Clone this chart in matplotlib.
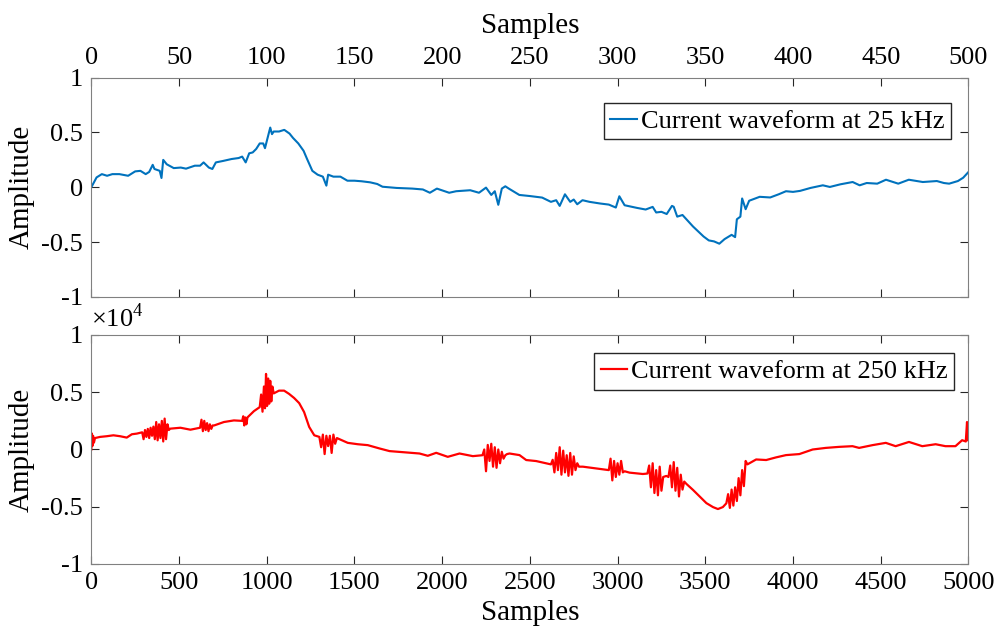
import matplotlib

matplotlib.use("Agg")
import matplotlib.pyplot as plt
import numpy as np
from matplotlib.ticker import FuncFormatter

# 25 kHz waveform (samples 0..500)
lf_samples = [
    0, 3, 6, 9, 12, 16, 21, 25, 28, 31, 33, 35, 36, 39, 40, 41, 43, 47, 51, 54,
    59, 62, 64, 67, 69, 71, 75, 80, 84, 86, 88, 90, 92, 94, 96, 98, 99, 101, 102, 103,
    104, 107, 110, 113, 115, 118, 121, 123, 126, 129, 132, 134, 135, 138, 142, 146, 150, 154, 159, 163,
    166, 174, 183, 189, 193, 197, 204, 208, 216, 221, 225, 228, 230, 232, 234, 236, 238, 244, 250, 257,
    262, 265, 267, 270, 273, 275, 277, 280, 284, 290, 295, 299, 301, 304, 311, 316, 320, 322, 325, 328,
    331, 332, 334, 337, 343, 349, 352, 355, 358, 361, 365, 367, 368, 370, 371, 373, 375, 381, 387, 392,
    396, 400, 404, 410, 417, 421, 427, 434, 438, 442, 448, 453, 460, 466, 474, 482, 486, 489, 494, 497,
    500,
]
lf_amp = [
    0.0, 0.09, 0.12, 0.105, 0.12, 0.12, 0.105, 0.145, 0.15, 0.12, 0.14, 0.205, 0.167, 0.15, 0.085, 0.25, 0.21, 0.175, 0.18, 0.17,
    0.197, 0.197, 0.227, 0.18, 0.167, 0.227, 0.24, 0.258, 0.267, 0.28, 0.227, 0.31, 0.318, 0.35, 0.4, 0.4, 0.357, 0.48, 0.545, 0.485,
    0.509, 0.509, 0.524, 0.49, 0.45, 0.4, 0.333, 0.258, 0.15, 0.115, 0.097, 0.015, 0.115, 0.097, 0.097, 0.06, 0.06, 0.055, 0.045, 0.03,
    0.005, -0.006, -0.012, -0.02, -0.05, -0.012, -0.05, -0.036, -0.027, -0.05, -0.003, -0.07, -0.036, -0.16, -0.012, 0.009, -0.012, -0.07, -0.08, -0.094,
    -0.133, -0.118, -0.17, -0.064, -0.133, -0.112, -0.155, -0.118, -0.133, -0.148, -0.158, -0.185, -0.082, -0.164, -0.188, -0.203, -0.179, -0.23, -0.224, -0.244,
    -0.17, -0.178, -0.268, -0.253, -0.358, -0.449, -0.485, -0.494, -0.515, -0.473, -0.434, -0.455, -0.292, -0.268, -0.102, -0.2, -0.123, -0.087, -0.093, -0.063,
    -0.036, -0.042, -0.033, -0.006, 0.018, 0.003, 0.027, 0.048, 0.018, 0.039, 0.033, 0.069, 0.033, 0.069, 0.048, 0.057, 0.039, 0.033, 0.057, 0.087,
    0.139,
]

# 250 kHz waveform (samples 0..5000), amplitude in units of 1e4
hf_samples = [
    0, 3, 6, 10, 15, 21, 50, 88, 126, 164, 202, 231, 260,
    290, 298, 306, 314, 322, 330, 338, 346, 354, 362, 370, 378, 386, 394, 402, 410, 418, 426, 434, 442,
    450, 508, 565,
    620, 628, 636, 644, 652, 660, 668, 676, 684, 692, 700,
    756, 813, 860, 866, 872, 878, 884, 890, 927,
    960, 968, 976, 984, 990, 996, 1002, 1008, 1014, 1020, 1026, 1032, 1040,
    1070, 1099, 1127, 1156, 1185, 1213, 1242, 1271,
    1300, 1310, 1320, 1330, 1340, 1350, 1360, 1370, 1380, 1390, 1400,
    1462, 1519, 1576, 1643, 1700, 1776, 1871, 1918, 1966, 2032, 2099, 2175,
    2230, 2240, 2250, 2260, 2270, 2280, 2290, 2300, 2310, 2320, 2330, 2340, 2350, 2360, 2370,
    2384, 2441, 2479, 2536, 2593,
    2620, 2630, 2640, 2650, 2660, 2670, 2680, 2690, 2700, 2710, 2720, 2730, 2740, 2750, 2760, 2770, 2780,
    2802, 2878,
    2950, 2960, 2970, 2980, 2990, 3000, 3010, 3020, 3030, 3040,
    3068, 3144,
    3170, 3180, 3190, 3200, 3210, 3220, 3230, 3240, 3250, 3260,
    3278,
    3290, 3300, 3310, 3320, 3330, 3340, 3350, 3360, 3370, 3380,
    3392, 3430, 3468, 3506, 3544, 3572, 3600,
    3620, 3630, 3640, 3650, 3660, 3670, 3680, 3690, 3700, 3710, 3720, 3730, 3740,
    3790, 3847, 3903, 3960, 4036, 4112, 4187, 4263, 4339, 4377, 4453, 4529, 4585, 4661, 4737, 4813, 4869, 4926, 4964,
    4985, 4992, 4996, 5000,
]
hf_amp = [
    0.0, 0.14, 0.03, 0.12, 0.06, 0.10, 0.11, 0.116, 0.124, 0.116, 0.104, 0.133, 0.139,
    0.15, 0.09, 0.17, 0.11, 0.18, 0.10, 0.19, 0.12, 0.20, 0.09, 0.24, 0.08, 0.22, 0.10, 0.25, 0.07, 0.27, 0.09, 0.22, 0.17,
    0.182, 0.19, 0.173,
    0.19, 0.26, 0.16, 0.25, 0.17, 0.23, 0.16, 0.22, 0.18, 0.21, 0.21,
    0.24, 0.254, 0.25, 0.29, 0.21, 0.28, 0.22, 0.28, 0.335,
    0.37, 0.48, 0.33, 0.55, 0.36, 0.66, 0.38, 0.62, 0.40, 0.60, 0.42, 0.55, 0.49,
    0.514, 0.514, 0.486, 0.45, 0.405, 0.327, 0.197, 0.124,
    0.11, 0.02, 0.13, -0.04, 0.12, 0.03, 0.12, -0.03, 0.13, 0.05, 0.10,
    0.058, 0.046, 0.038, 0.009, -0.014, -0.023, -0.035, -0.055, -0.029, -0.064, -0.035, -0.058,
    -0.05, 0.0, -0.19, 0.04, -0.10, 0.05, -0.15, 0.02, -0.16, 0.0, -0.12, -0.02, -0.08, -0.05, -0.04,
    -0.035, -0.049, -0.092, -0.101, -0.121,
    -0.13, -0.09, -0.20, -0.03, -0.18, 0.02, -0.22, -0.01, -0.20, -0.05, -0.23, -0.03, -0.22, -0.06, -0.18, -0.12, -0.15,
    -0.15, -0.165,
    -0.18, -0.08, -0.27, -0.10, -0.24, -0.12, -0.22, -0.10, -0.20, -0.19,
    -0.202, -0.214,
    -0.21, -0.14, -0.33, -0.12, -0.38, -0.18, -0.40, -0.15, -0.36, -0.24,
    -0.231,
    -0.24, -0.14, -0.33, -0.11, -0.36, -0.16, -0.41, -0.22, -0.35, -0.28,
    -0.30, -0.353, -0.41, -0.468, -0.503, -0.52, -0.503,
    -0.47, -0.39, -0.51, -0.35, -0.49, -0.33, -0.45, -0.25, -0.40, -0.18, -0.32, -0.10, -0.13,
    -0.087, -0.092, -0.069, -0.049, -0.04, 0.0, 0.014, 0.023, 0.029, 0.014, 0.038, 0.058, 0.029, 0.066, 0.029, 0.046, 0.029, 0.029, 0.081,
    0.07, 0.24, 0.08, 0.15,
]
hf_scale = 1e4

lf_ticks = [0, 50, 100, 150, 200, 250, 300, 350, 400, 450, 500]
hf_ticks = [0, 500, 1000, 1500, 2000, 2500, 3000, 3500, 4000, 4500, 5000]
amp_ticks = [-1, -0.5, 0, 0.5, 1]

plt.rcParams["font.family"] = ["Liberation Serif", "DejaVu Serif"]
plt.rcParams["mathtext.fontset"] = "custom"
plt.rcParams["mathtext.rm"] = "Liberation Serif"
plt.rcParams["axes.unicode_minus"] = False

EDGE = "#262626"
FS = 19
LABEL_FS = 21


def _style(ax):
    for sp in ax.spines.values():
        sp.set_color("#808080")
        sp.set_linewidth(0.8)
    ax.tick_params(direction="in", length=6, width=0.8, color=EDGE,
                   top=True, right=True, labelsize=FS, pad=6)


def _legend(ax, anchor):
    ax.legend(loc="upper right", bbox_to_anchor=anchor, borderaxespad=0,
              handlelength=1.0, handletextpad=0.15, borderpad=0.25, fancybox=False,
              framealpha=1, edgecolor=EDGE, fontsize=19)


fig = plt.figure(figsize=(9.99, 6.37), dpi=100)
ax1 = fig.add_axes([0.0914, 0.534, 0.878, 0.344])
ax2 = fig.add_axes([0.0914, 0.1146, 0.878, 0.3595])

ax1.plot(lf_samples, lf_amp, color=(0, 0.447, 0.741), lw=1.5,
         label="Current waveform at 25 kHz")
ax1.set_xlim(0, 500)
ax1.set_ylim(-1, 1)
ax1.set_xticks(lf_ticks)
ax1.set_yticks(amp_ticks)
ax1.yaxis.set_major_formatter(FuncFormatter(lambda v, p: f"{v:g}"))
_style(ax1)
ax1.xaxis.set_label_position("top")
ax1.tick_params(labeltop=True, labelbottom=False)
ax1.set_xlabel("Samples", fontsize=LABEL_FS, labelpad=10)
ax1.set_ylabel("Amplitude", fontsize=LABEL_FS, labelpad=5)
_legend(ax1, (0.98, 0.886))

ax2.plot(hf_samples, np.array(hf_amp) * hf_scale, color="red", lw=1.6,
         label="Current waveform at 250 kHz")
ax2.set_xlim(0, 5000)
ax2.set_ylim(-hf_scale, hf_scale)
ax2.set_xticks(hf_ticks)
ax2.set_yticks(np.array(amp_ticks) * hf_scale)
ax2.yaxis.set_major_formatter(FuncFormatter(lambda v, p: f"{v / hf_scale:g}"))
_style(ax2)
ax2.text(0.0, 1.012, r"$\times10^{4}$", transform=ax2.transAxes,
         ha="left", va="bottom", fontsize=FS)
ax2.set_xlabel("Samples", fontsize=LABEL_FS, labelpad=4)
ax2.set_ylabel("Amplitude", fontsize=LABEL_FS, labelpad=5)
_legend(ax2, (0.984, 0.921))

fig.savefig("out.png", dpi=100)
plt.close(fig)
